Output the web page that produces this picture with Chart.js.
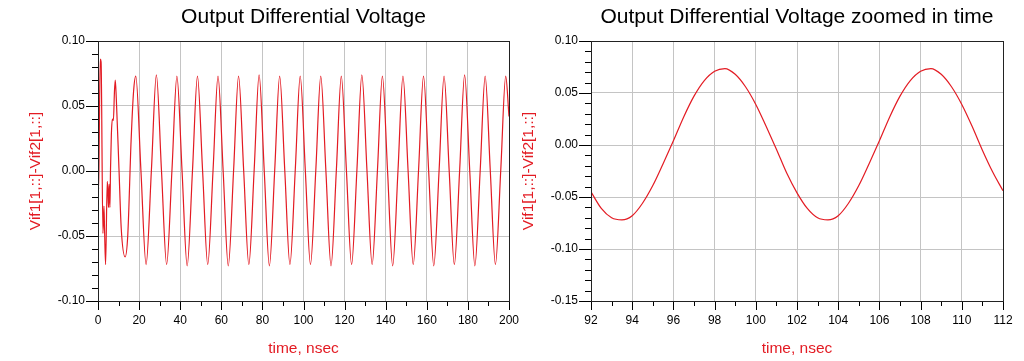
<!DOCTYPE html>
<html>
<head>
<meta charset="utf-8">
<script src="https://cdn.jsdelivr.net/npm/chart.js@4.4.0/dist/chart.umd.min.js"></script>
<style>
  html, body { margin: 0; padding: 0; background: #fff; }
  #wrap { position: relative; width: 1024px; height: 361px; overflow: hidden; }
  canvas { position: absolute; top: 0; }
  #left-chart { left: 0; }
  #right-chart { left: 512px; }
</style>
</head>
<body>
<div id="wrap">
  <canvas id="left-chart" width="530" height="361"></canvas>
  <canvas id="right-chart" width="512" height="361"></canvas>
</div>
<script>
// left plot: full 0..200 ns run (start-up transient, then steady oscillation)
var leftTime = [
  0, 0.3, 0.6, 1.1, 1.5, 2.4, 2.9, 3.2, 3.7, 4.5, 4.8, 5.1, 5.4, 5.8, 6.1,
  6.5, 7.0, 7.5, 8.0, 8.4, 8.9, 10.2, 11.3, 13.2, 14.5, 16.1, 17.3, 18.4,
  20.9, 23.4, 26.0, 28.4,
  30.9, 33.4, 36.0, 38.4,
  40.9, 43.4, 46.0, 48.4,
  50.9, 53.4, 56.0, 58.4,
  60.9, 63.4, 66.0, 68.4,
  70.9, 73.4, 76.0, 78.4,
  80.9, 83.4, 86.0, 88.4,
  90.9, 93.4, 96.0, 98.4,
  100.9, 103.4, 106.0, 108.4,
  110.9, 113.4, 116.0, 118.4,
  120.9, 123.4, 126.0, 128.4,
  130.9, 133.4, 136.0, 138.4,
  140.9, 143.4, 146.0, 148.4,
  150.9, 153.4, 156.0, 158.4,
  160.9, 163.4, 166.0, 168.4,
  170.9, 173.4, 176.0, 178.4,
  180.9, 183.4, 186.0, 188.4,
  190.9, 193.4, 196.0, 198.4,
  200
];
var leftVolt = [
  -0.002, -0.014, 0.024, 0.086, 0.084, -0.048, -0.027, -0.046, -0.072, -0.008, -0.015, -0.028, -0.010, -0.028, 0.002,
  0.028, 0.040, 0.039, 0.061, 0.070, 0.056, 0.002, -0.044, -0.066, -0.049, 0.023, 0.061, 0.073,
  0.000, -0.072, 0.001, 0.074,
  0.000, -0.072, 0.001, 0.073,
  0.000, -0.073, 0.001, 0.073,
  0.000, -0.072, 0.001, 0.073,
  0.000, -0.073, 0.001, 0.073,
  0.000, -0.072, 0.001, 0.074,
  0.000, -0.073, 0.001, 0.073,
  0.000, -0.072, 0.001, 0.073,
  0.000, -0.072, 0.001, 0.073,
  0.000, -0.073, 0.001, 0.073,
  0.000, -0.072, 0.001, 0.074,
  0.000, -0.072, 0.001, 0.073,
  0.000, -0.073, 0.001, 0.073,
  0.000, -0.072, 0.001, 0.073,
  0.000, -0.073, 0.001, 0.073,
  0.000, -0.072, 0.001, 0.074,
  0.000, -0.073, 0.001, 0.073,
  0.000, -0.072, 0.001, 0.073,
  0.042
];

// right plot: 92..112 ns window
var rightTime = [
  92, 92.5, 93, 93.5, 94, 94.5, 95, 95.5, 96, 96.5,
  97, 97.5, 98, 98.5, 99, 99.5, 100, 100.5, 101, 101.5,
  102, 102.5, 103, 103.5, 104, 104.5, 105, 105.5, 106, 106.5,
  107, 107.5, 108, 108.5, 109, 109.5, 110, 110.5, 111, 111.5,
  112
];
var rightVolt = [
  -0.045, -0.061, -0.070, -0.072, -0.068, -0.056, -0.039, -0.018, 0.004, 0.027,
  0.047, 0.062, 0.071, 0.0735, 0.068, 0.056, 0.039, 0.018, -0.004, -0.027,
  -0.046, -0.061, -0.070, -0.072, -0.068, -0.056, -0.039, -0.018, 0.004, 0.027,
  0.047, 0.062, 0.071, 0.0735, 0.068, 0.056, 0.039, 0.018, -0.005, -0.026,
  -0.044
];

// labelled ticks (the rest are minor ticks)
var leftXLabels = [0, 20, 40, 60, 80, 100, 120, 140, 160, 180, 200];
var rightXLabels = [92, 94, 96, 98, 100, 102, 104, 106, 108, 110, 112];
var leftYLabels = [-0.10, -0.05, 0.00, 0.05, 0.10];
var rightYLabels = [-0.15, -0.10, -0.05, 0.00, 0.05, 0.10];

var red = "#e31b23";
var fontFamily = '"Liberation Sans", Arial, sans-serif';
Chart.defaults.font.family = fontFamily;
Chart.defaults.color = "#000";

function isLabelled(list, v) {
  return list.some(function (l) { return Math.abs(l - v) < 1e-9; });
}

// frame around plot + short/long tick marks
var frameAndTicks = {
  id: "frameAndTicks",
  afterDraw: function (chart) {
    var ctx = chart.ctx, a = chart.chartArea;
    var xs = chart.scales.x, ys = chart.scales.y;
    ctx.save();
    ctx.strokeStyle = "#000";
    ctx.lineWidth = 1;
    ctx.beginPath();
    xs.ticks.forEach(function (t) {
      var px = Math.round(xs.getPixelForValue(t.value)) + 0.5;
      var len = t.label !== "" ? 9 : 5;
      ctx.moveTo(px, a.bottom);
      ctx.lineTo(px, a.bottom + len);
    });
    ys.ticks.forEach(function (t) {
      var py = Math.round(ys.getPixelForValue(t.value)) + 0.5;
      var len = t.label !== "" ? 12 : 6;
      ctx.moveTo(a.left, py);
      ctx.lineTo(a.left - len, py);
    });
    ctx.stroke();
    ctx.strokeStyle = "#222";
    ctx.strokeRect(Math.round(a.left) + 0.5, Math.round(a.top) + 0.5,
      Math.round(a.right - a.left), Math.round(a.bottom - a.top));
    ctx.restore();
  }
};

function makeChart(id, cfg) {
  var points = cfg.time.map(function (t, i) { return { x: t, y: cfg.volt[i] }; });
  return new Chart(document.getElementById(id).getContext("2d"), {
    type: "line",
    data: {
      datasets: [{
        data: points,
        borderColor: red,
        borderWidth: 1.2,
        pointRadius: 0,
        cubicInterpolationMode: "monotone",
        fill: false
      }]
    },
    options: {
      responsive: false,
      animation: false,
      devicePixelRatio: 1,
      layout: { padding: { left: 0, right: cfg.padRight, top: 0, bottom: 0 } },
      plugins: {
        legend: { display: false },
        tooltip: { enabled: false },
        title: {
          display: true,
          text: cfg.title,
          fullSize: false,
          color: "#000",
          font: { size: 21, weight: "normal", lineHeight: 1.2 },
          padding: { top: 4.6, bottom: 11.2 }
        }
      },
      scales: {
        x: {
          type: "linear",
          min: cfg.xMin,
          max: cfg.xMax,
          afterFit: function (s) { s.height = 60; s.paddingLeft = 0; s.paddingRight = 0; },
          ticks: {
            stepSize: cfg.xStep,
            autoSkip: false,
            maxRotation: 0,
            padding: 12,
            font: { size: 12 },
            callback: function (v) { return isLabelled(cfg.xLabels, v) ? String(Math.round(v)) : ""; }
          },
          grid: {
            drawTicks: false,
            color: function (c) { return c.tick && c.tick.label !== "" ? "#c4c4c4" : "rgba(0,0,0,0)"; }
          },
          border: { display: false },
          title: {
            display: true,
            text: "time, nsec",
            color: red,
            font: { size: 15.5 },
            padding: { top: 0, bottom: 2.7 }
          }
        },
        y: {
          min: cfg.yMin,
          max: cfg.yMax,
          afterFit: function (s) { s.width = cfg.yWidth; s.paddingTop = 0; s.paddingBottom = 0; },
          ticks: {
            stepSize: 0.01,
            autoSkip: false,
            padding: 13,
            font: { size: 12 },
            callback: function (v) {
              if (!isLabelled(cfg.yLabels, v)) return "";
              return Math.abs(v) < 1e-9 ? "0.00" : v.toFixed(2);
            }
          },
          grid: {
            drawTicks: false,
            color: function (c) { return c.tick && c.tick.label !== "" ? "#c4c4c4" : "rgba(0,0,0,0)"; }
          },
          border: { display: false },
          title: {
            display: true,
            text: "Vif1[1,::]-Vif2[1,::]",
            color: red,
            font: { size: 15.5 },
            padding: { top: cfg.yTitlePad, bottom: 0 }
          }
        }
      }
    },
    plugins: [frameAndTicks]
  });
}

makeChart("left-chart", {
  title: "Output Differential Voltage",
  time: leftTime, volt: leftVolt,
  xMin: 0, xMax: 200, xStep: 10, xLabels: leftXLabels,
  yMin: -0.1, yMax: 0.1, yLabels: leftYLabels,
  yWidth: 98, padRight: 21, yTitlePad: 26.7
});

makeChart("right-chart", {
  title: "Output Differential Voltage zoomed in time",
  time: rightTime, volt: rightVolt,
  xMin: 92, xMax: 112, xStep: 1, xLabels: rightXLabels,
  yMin: -0.15, yMax: 0.1, yLabels: rightYLabels,
  yWidth: 79, padRight: 21, yTitlePad: 7.7
});
</script>
</body>
</html>
